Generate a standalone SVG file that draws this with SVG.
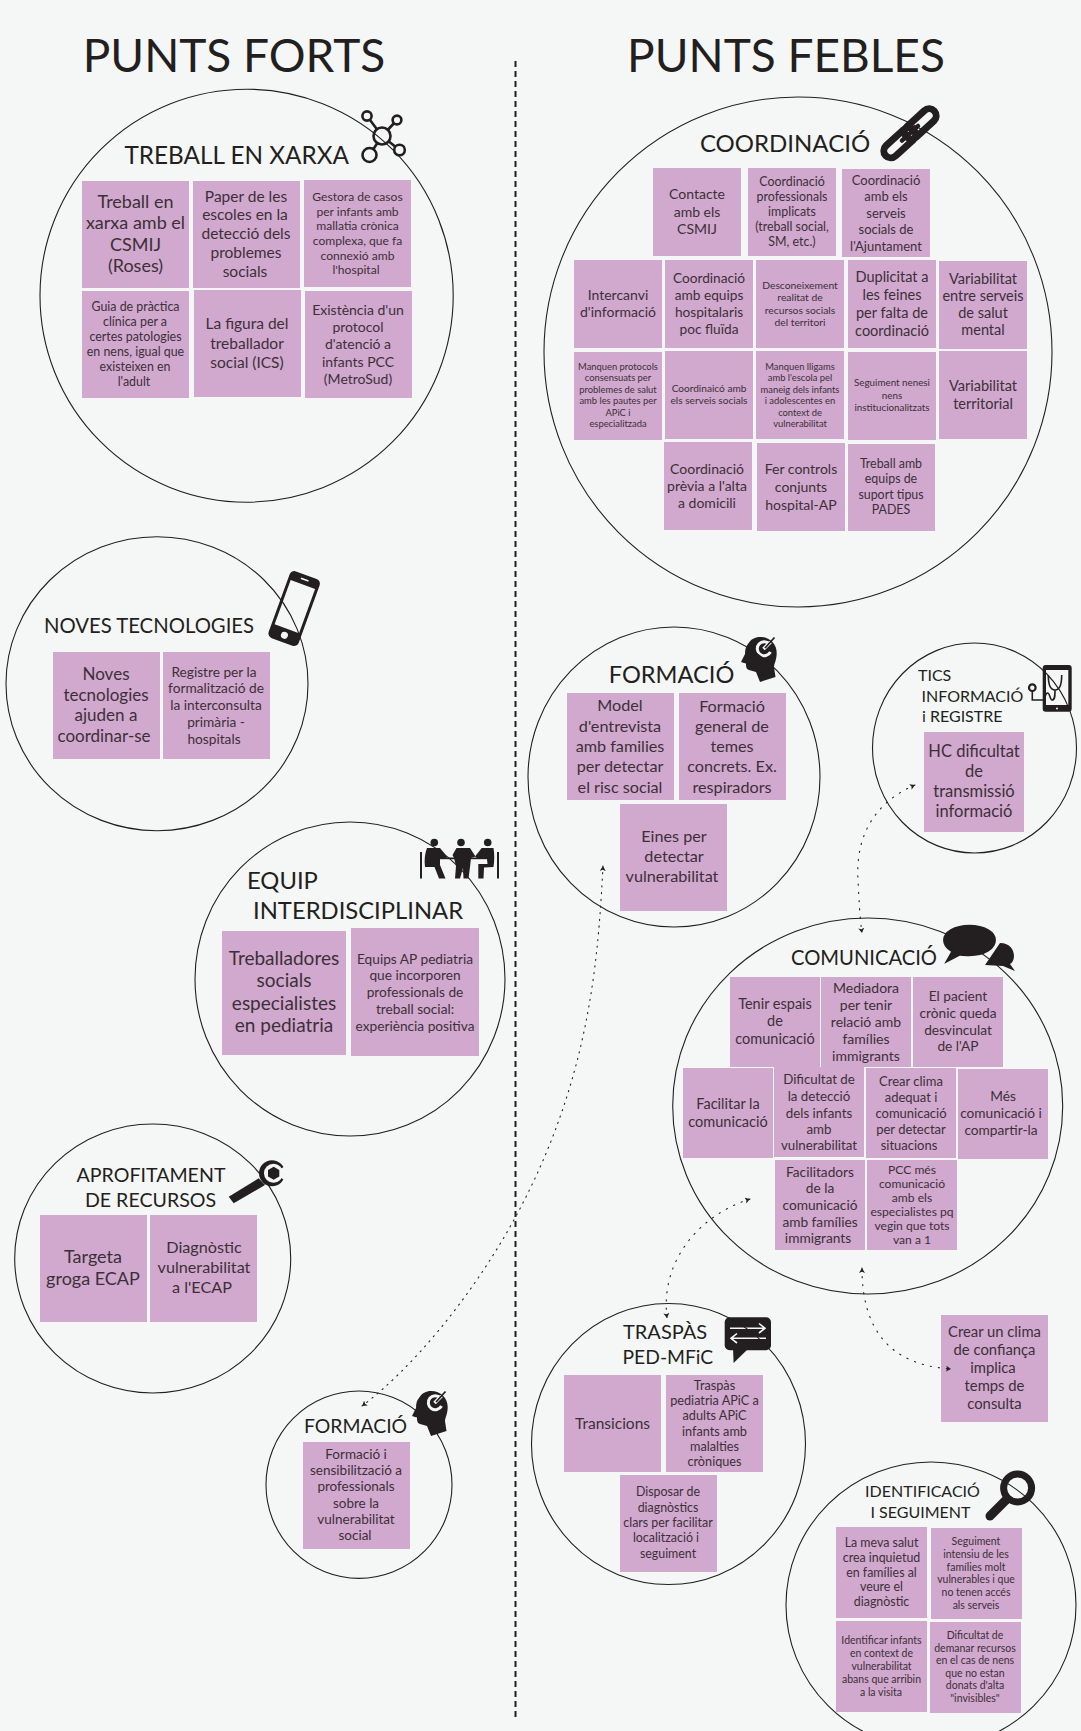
<svg xmlns="http://www.w3.org/2000/svg" width="1081" height="1731" viewBox="0 0 1081 1731">
<style>
text{font-family:"Lato","Noto Sans",sans-serif;text-anchor:middle;fill:#3c3038}
.h,.l{fill:#231f20}
.l{text-anchor:start}
.big{font-size:46px}
.h243{font-size:24.3px}.h240{font-size:24px}.h238{font-size:23.8px}.h236{font-size:23.6px}.h203{font-size:20.3px}.h202{font-size:20.2px}.h196{font-size:19.6px}.h194{font-size:19.4px}.h200{font-size:20px}.h193{font-size:19.3px}.h160{font-size:16px}
.c{fill:none;stroke:#231f20;stroke-width:1.1}
.s{fill:#d1a8ce}
.i{fill:#231f20}
.bg{fill:#f5f7f6}
.f94{font-size:9.4px}.f98{font-size:9.8px}.f101{font-size:10.1px}.f103{font-size:10.3px}.f105{font-size:10.5px}.f121{font-size:12.1px}.f124{font-size:12.4px}.f127{font-size:12.7px}.f130{font-size:13px}.f133{font-size:13.3px}.f135{font-size:13.5px}.f137{font-size:13.7px}.f140{font-size:14px}.f145{font-size:14.5px}.f148{font-size:14.8px}.f155{font-size:15.5px}.f162{font-size:16.2px}.f165{font-size:16.5px}.f170{font-size:17px}.f180{font-size:18px}.f190{font-size:19px}
.dot{fill:none;stroke:#231f20;stroke-width:1.1;stroke-dasharray:1.2 7;stroke-linecap:round}
.dot2{stroke-dasharray:1.2 5.5}
.net{fill:none;stroke:#231f20;stroke-width:2.6}
.ln{fill:none;stroke:#231f20}
</style>
<defs>
<marker id="arr" markerUnits="userSpaceOnUse" markerWidth="7" markerHeight="7" refX="5" refY="3" orient="auto-start-reverse"><path d="M0,0 L5,3 L0,6 L1.2,3 Z" fill="#231f20"/></marker>
<g id="head"><path class="i" d="M19,0 C29,0 35.7,7 35.7,16 C35.7,23 33,27 33,30 L34.5,40 L19,45 L15,35 L8,33 C5,32 5,29 5,26.5 L3,26 L0,25 L4,17 C4,12 5,9 7,7 C10,2 14,0 19,0 Z"/><path d="M28.5,7 A7,7 0 1 0 29.5,15" fill="none" stroke="#f5f7f6" stroke-width="3"/><path d="M22.5,12 L29.5,5" fill="none" stroke="#f5f7f6" stroke-width="3.5"/><path d="M24,11 L33.5,0.5" fill="none" stroke="#231f20" stroke-width="1.8"/></g>
</defs>
<rect width="1081" height="1731" class="bg"/>
<path d="M515.5,61 V1718" fill="none" stroke="#231f20" stroke-width="2" stroke-dasharray="6 4"/>
<text class="h big" x="234" y="72">PUNTS FORTS</text>
<text class="h big" x="786" y="72">PUNTS FEBLES</text>

<g id="treball-xarxa">
<g class="net"><path d="M382,136 L367,116 M382,136 L397,120 M382,136 L399.5,150 M382,136 L369.5,155"/><circle cx="382" cy="136" r="8.5" class="bg"/><circle cx="367" cy="116" r="4.6" class="bg"/><circle cx="397" cy="120" r="4.4" class="bg"/><circle cx="399.5" cy="150" r="5.3" class="bg"/><circle cx="369.5" cy="155" r="7" class="bg"/></g>
<ellipse class="c" cx="246.6" cy="295.7" rx="206.6" ry="206.5"/>
<text class="h h243" x="236.7" y="163.5">TREBALL EN XARXA</text>
<rect class="s" x="82" y="181" width="107" height="107"/><text class="f180"><tspan x="135.5" y="208">Treball en</tspan><tspan x="135.5" y="229">xarxa amb el</tspan><tspan x="135.5" y="251">CSMIJ</tspan><tspan x="135.5" y="272">(Roses)</tspan></text>
<rect class="s" x="193" y="181" width="107" height="107"/><text class="f155"><tspan x="246" y="202">Paper de les</tspan><tspan x="245" y="220">escoles en la</tspan><tspan x="246" y="239">detecció dels</tspan><tspan x="246" y="258">problemes</tspan><tspan x="245" y="277">socials</tspan></text>
<rect class="s" x="304" y="180" width="107" height="107"/><text class="f121"><tspan x="357.5" y="201">Gestora de casos</tspan><tspan x="357.5" y="216">per infants amb</tspan><tspan x="357.5" y="230">mallatia crònica</tspan><tspan x="357.5" y="245">complexa, que fa</tspan><tspan x="357.5" y="260">connexió amb</tspan><tspan x="356" y="274">l'hospital</tspan></text>
<rect class="s" x="82" y="291" width="107" height="107"/><text class="f124"><tspan x="135.5" y="311">Guia de pràctica</tspan><tspan x="135" y="326">clínica per a</tspan><tspan x="135.5" y="341">certes patologies</tspan><tspan x="135.5" y="356">en nens, igual que</tspan><tspan x="135" y="371">existeixen en</tspan><tspan x="134" y="386">l'adult</tspan></text>
<rect class="s" x="194" y="290" width="107" height="107"/><text class="f155"><tspan x="247" y="329">La figura del</tspan><tspan x="247" y="349">treballador</tspan><tspan x="247" y="368">social (ICS)</tspan></text>
<rect class="s" x="305" y="291" width="107" height="107"/><text class="f140"><tspan x="358" y="315">Existència d'un</tspan><tspan x="358" y="332">protocol</tspan><tspan x="358" y="349">d'atenció a</tspan><tspan x="358" y="367">infants PCC</tspan><tspan x="358" y="384">(MetroSud)</tspan></text>
</g>

<g id="coordinacio">
<g transform="translate(910 133.3) rotate(-42.5)"><rect x="-33" y="-7" width="38" height="14" rx="7" fill="none" stroke="#231f20" stroke-width="7"/><rect x="-5" y="-7" width="38" height="14" rx="7" fill="none" stroke="#231f20" stroke-width="7"/><rect x="-13" y="-2.2" width="26" height="4.4" rx="2" class="i"/></g>
<ellipse class="c" cx="798" cy="352" rx="254" ry="255"/>
<text class="h h240" x="785" y="151.5">COORDINACIÓ</text>
<rect class="s" x="653" y="168" width="88" height="88"/><text class="f140"><tspan x="697" y="199">Contacte</tspan><tspan x="697" y="217">amb els</tspan><tspan x="697" y="234">CSMIJ</tspan></text>
<rect class="s" x="748" y="168" width="88" height="88"/><text class="f124"><tspan x="792" y="186">Coordinació</tspan><tspan x="792" y="201">professionals</tspan><tspan x="792" y="216">implicats</tspan><tspan x="792" y="231">(treball social,</tspan><tspan x="792" y="246">SM, etc.)</tspan></text>
<rect class="s" x="842" y="169" width="88" height="88"/><text class="f130"><tspan x="886" y="185">Coordinació</tspan><tspan x="886" y="201">amb els</tspan><tspan x="886" y="218">serveis</tspan><tspan x="886" y="234">socials de</tspan><tspan x="886" y="251">l'Ajuntament</tspan></text>
<rect class="s" x="574" y="260" width="88" height="88"/><text class="f140"><tspan x="618" y="300">Intercanvi</tspan><tspan x="618" y="317">d'informació</tspan></text>
<rect class="s" x="665" y="260" width="88" height="88"/><text class="f137"><tspan x="709" y="283">Coordinació</tspan><tspan x="709" y="300">amb equips</tspan><tspan x="709" y="317">hospitalaris</tspan><tspan x="709" y="334">poc fluïda</tspan></text>
<rect class="s" x="756" y="260" width="88" height="88"/><text class="f103"><tspan x="800" y="289">Desconeixement</tspan><tspan x="800" y="301">realitat de</tspan><tspan x="800" y="314">recursos socials</tspan><tspan x="800" y="326">del territori</tspan></text>
<rect class="s" x="848" y="260" width="88" height="88"/><text class="f145"><tspan x="892" y="282">Duplicitat a</tspan><tspan x="892" y="300">les feines</tspan><tspan x="892" y="318">per falta de</tspan><tspan x="892" y="336">coordinació</tspan></text>
<rect class="s" x="939" y="261" width="88" height="88"/><text class="f145"><tspan x="983" y="284">Variabilitat</tspan><tspan x="983" y="301">entre serveis</tspan><tspan x="983" y="318">de salut</tspan><tspan x="983" y="335">mental</tspan></text>
<rect class="s" x="574" y="352" width="88" height="88"/><text class="f94"><tspan x="618" y="370">Manquen protocols</tspan><tspan x="618" y="381">consensuats per</tspan><tspan x="618" y="393">problemes de salut</tspan><tspan x="618" y="404">amb les pautes per</tspan><tspan x="618" y="416">APiC i</tspan><tspan x="618" y="427">especialitzada</tspan></text>
<rect class="s" x="665" y="351" width="88" height="88"/><text class="f101"><tspan x="709" y="392">Coordinaicó amb</tspan><tspan x="709" y="404">els serveis socials</tspan></text>
<rect class="s" x="756" y="351" width="88" height="88"/><text class="f94"><tspan x="800" y="370">Manquen lligams</tspan><tspan x="800" y="381">amb l'escola pel</tspan><tspan x="800" y="393">maneig dels infants</tspan><tspan x="800" y="404">i adolescentes en</tspan><tspan x="800" y="416">context de</tspan><tspan x="800" y="427">vulnerabilitat</tspan></text>
<rect class="s" x="848" y="352" width="88" height="88"/><text class="f98"><tspan x="892" y="386">Seguiment nenesi</tspan><tspan x="892" y="399">nens</tspan><tspan x="892" y="411">institucionalitzats</tspan></text>
<rect class="s" x="939" y="351" width="88" height="88"/><text class="f145"><tspan x="983" y="391">Variabilitat</tspan><tspan x="983" y="409">territorial</tspan></text>
<rect class="s" x="664" y="442" width="88" height="88"/><text class="f140"><tspan x="707" y="474">Coordinació</tspan><tspan x="707" y="491">prèvia a l'alta</tspan><tspan x="707" y="508">a domicili</tspan></text>
<rect class="s" x="757" y="443" width="88" height="88"/><text class="f140"><tspan x="801" y="474">Fer controls</tspan><tspan x="801" y="492">conjunts</tspan><tspan x="801" y="510">hospital-AP</tspan></text>
<rect class="s" x="848" y="444" width="87" height="87"/><text class="f124"><tspan x="891" y="468">Treball amb</tspan><tspan x="891" y="483">equips de</tspan><tspan x="891" y="499">suport tipus</tspan><tspan x="891" y="514">PADES</tspan></text>
</g>

<g id="noves-tecnologies">
<g transform="translate(294 609) rotate(20)"><rect x="-16" y="-36" width="32" height="71" rx="5" class="i"/><rect x="-13" y="-26" width="26" height="47" class="bg"/><circle cx="0" cy="28" r="3.5" class="bg"/><rect x="-4" y="-32" width="8" height="1.6" class="bg"/></g>
<ellipse class="c" cx="157" cy="683.7" rx="151" ry="147"/>
<text class="h h203" x="149" y="632.5">NOVES TECNOLOGIES</text>
<rect class="s" x="53" y="652" width="107" height="107"/><text class="f170"><tspan x="106" y="680">Noves</tspan><tspan x="106" y="701">tecnologies</tspan><tspan x="106" y="721">ajuden a</tspan><tspan x="104" y="742">coordinar-se</tspan></text>
<rect class="s" x="163" y="652" width="107" height="107"/><text class="f137"><tspan x="214" y="677">Registre per la</tspan><tspan x="216" y="693">formalització de</tspan><tspan x="216" y="710">la interconsulta</tspan><tspan x="216" y="727">primària -</tspan><tspan x="214" y="744">hospitals</tspan></text>
</g>

<g id="equip-interdisciplinar">
<g class="i">
<circle cx="434.3" cy="842.5" r="3.8"/><circle cx="461" cy="842.5" r="3.8"/><circle cx="487.7" cy="842.5" r="3.8"/>
<path d="M427,848 L440,848 L447,856.5 L446,859 L440,859 L440,865 L445.5,878.5 L439,878.5 L434.5,867 L425,867 C424,860 425,853 427,848 Z"/>
<path d="M456.5,848 L470,848 L475.5,856.5 L471,858 L470,867 L468.5,878.5 L463.5,878.5 L463,868 L460,878.5 L455,878.5 L456,866 L454,858 L452.5,855 Z"/>
<path d="M481.7,848 L493.5,848 C494.5,854 494.5,860 493.5,867 L484,867.5 L483.5,878.5 L478.3,878.5 L478.3,864 L487.5,864 L487,859 L477,858 L475,856.5 Z"/>
<rect x="434" y="857.5" width="57" height="1.7"/><rect x="420" y="852" width="2" height="26.5"/><rect x="497" y="852" width="2" height="26.5"/>
</g>
<ellipse class="c" cx="350" cy="979" rx="155" ry="157"/>
<text class="l h238" x="247" y="888.5">EQUIP</text>
<text class="l h238" x="253" y="919">INTERDISCIPLINAR</text>
<rect class="s" x="222" y="931" width="124" height="124"/><text class="f190"><tspan x="284" y="965">Treballadores</tspan><tspan x="284" y="987">socials</tspan><tspan x="284" y="1010">especialistes</tspan><tspan x="284" y="1032">en pediatria</tspan></text>
<rect class="s" x="351" y="928" width="128" height="128"/><text class="f137"><tspan x="415" y="964">Equips AP pediatria</tspan><tspan x="415" y="980">que incorporen</tspan><tspan x="415" y="997">professionals de</tspan><tspan x="415" y="1014">treball social:</tspan><tspan x="415" y="1031">experiència positiva</tspan></text>
</g>

<g id="aprofitament-recursos">
<path class="i" d="M228.7,1196.7 L258.7,1178.3 L265,1185 L233.7,1203.3 Z"/><circle class="i" cx="272" cy="1173.3" r="13"/><circle class="bg" cx="273.5" cy="1173.3" r="9.5"/><path class="bg" d="M274,1173 L290,1163 L290,1184 Z"/><polygon class="i" points="273.7,1166.8 279.3,1170 279.3,1176.6 273.7,1179.8 268,1176.6 268,1170"/>
<ellipse class="c" cx="152.7" cy="1258.5" rx="138" ry="134.5"/>
<text class="h h196" x="151" y="1182">APROFITAMENT</text>
<text class="h h196" x="150.5" y="1207">DE RECURSOS</text>
<rect class="s" x="40" y="1215" width="107" height="107"/><text class="f180"><tspan x="93" y="1263">Targeta</tspan><tspan x="93" y="1285">groga ECAP</tspan></text>
<rect class="s" x="150" y="1215" width="107" height="107"/><text class="f162"><tspan x="204" y="1253">Diagnòstic</tspan><tspan x="204" y="1273">vulnerabilitat</tspan><tspan x="202" y="1293">a l'ECAP</tspan></text>
</g>

<g id="formacio-forts">
<use href="#head" x="412" y="1391"/>
<ellipse class="c" cx="359" cy="1484.7" rx="93" ry="93.7"/>
<text class="h h194" x="355.5" y="1433">FORMACIÓ</text>
<rect class="s" x="303" y="1442" width="107" height="107"/><text class="f135"><tspan x="356" y="1459">Formació i</tspan><tspan x="356" y="1475">sensibilització a</tspan><tspan x="356" y="1491">professionals</tspan><tspan x="356" y="1508">sobre la</tspan><tspan x="356" y="1524">vulnerabilitat</tspan><tspan x="355" y="1540">social</tspan></text>
</g>

<g id="formacio-febles">
<use href="#head" x="741" y="637"/>
<ellipse class="c" cx="674" cy="777" rx="146" ry="150"/>
<text class="h h236" x="671.5" y="683">FORMACIÓ</text>
<rect class="s" x="567" y="693" width="107" height="107"/><text class="f162"><tspan x="620" y="711">Model</tspan><tspan x="620" y="732">d'entrevista</tspan><tspan x="620" y="752">amb families</tspan><tspan x="620" y="772">per detectar</tspan><tspan x="620" y="793">el risc social</tspan></text>
<rect class="s" x="679" y="693" width="107" height="107"/><text class="f162"><tspan x="732" y="712">Formació</tspan><tspan x="732" y="732">general de</tspan><tspan x="732" y="752">temes</tspan><tspan x="732" y="772">concrets. Ex.</tspan><tspan x="732" y="793">respiradors</tspan></text>
<rect class="s" x="620" y="804" width="107" height="107"/><text class="f162"><tspan x="674" y="842">Eines per</tspan><tspan x="674" y="862">detectar</tspan><tspan x="672" y="882">vulnerabilitat</tspan></text>
</g>

<g id="tics">
<rect x="1042.7" y="665" width="29" height="46.7" rx="3" class="i"/><rect x="1046" y="670" width="22.3" height="35" class="bg"/><circle cx="1057" cy="708.5" r="1" class="bg"/>
<path class="ln" stroke-width="1.6" d="M1032.3,691 V700 H1043.3 C1045,700 1045,693 1047.5,693 C1050,693 1050,700 1052,700 C1055,700 1055,696 1055,690 M1048.3,675 C1048.3,688 1052,690 1055,690 C1058,690 1061.7,688 1061.7,675"/><circle class="ln" cx="1032.3" cy="687.7" r="3.3" stroke-width="2.2"/>
<ellipse class="c" cx="974.5" cy="748" rx="102" ry="105"/>
<text class="l h160" x="918" y="681">TICS</text>
<text class="l h160" x="921.5" y="701.7">INFORMACIÓ</text>
<text class="l h160" x="922" y="722">i REGISTRE</text>
<rect class="s" x="924" y="732" width="100" height="100"/><text class="f165"><tspan x="974" y="757">HC dificultat</tspan><tspan x="974" y="777">de</tspan><tspan x="974" y="797">transmissió</tspan><tspan x="974" y="817">informació</tspan></text>
</g>

<g id="comunicacio">
<path class="i" d="M1000,943 C1010,943 1014,950 1014,956 C1014,960 1012,963 1010,964 L1015,971 L1003,966 L985,965 Z"/>
<path class="i" d="M969.5,924 C985,924 996.7,931 996.7,940 C996.7,950 985,957 969.5,957 C965,957 962,956.5 960,956.5 L942.3,965.7 L950,952 C945,949 942.3,945 942.3,940 C942.3,931 954,924 969.5,924 Z" stroke="#f5f7f6" stroke-width="1.5"/>
<ellipse class="c" cx="867.7" cy="1106" rx="195" ry="188"/>
<text class="h h202" x="864" y="964.5">COMUNICACIÓ</text>
<rect class="s" x="730" y="977" width="90" height="90"/><text class="f145"><tspan x="775" y="1009">Tenir espais</tspan><tspan x="775" y="1026">de</tspan><tspan x="775" y="1044">comunicació</tspan></text>
<rect class="s" x="821" y="977" width="90" height="90"/><text class="f140"><tspan x="866" y="993">Mediadora</tspan><tspan x="866" y="1010">per tenir</tspan><tspan x="866" y="1027">relació amb</tspan><tspan x="866" y="1044">famílies</tspan><tspan x="866" y="1061">immigrants</tspan></text>
<rect class="s" x="913" y="977" width="90" height="90"/><text class="f137"><tspan x="958" y="1001">El pacient</tspan><tspan x="958" y="1018">crònic queda</tspan><tspan x="958" y="1035">desvinculat</tspan><tspan x="958" y="1051">de l'AP</tspan></text>
<rect class="s" x="683" y="1068" width="90" height="90"/><text class="f145"><tspan x="728" y="1109">Facilitar la</tspan><tspan x="728" y="1127">comunicació</tspan></text>
<rect class="s" x="774" y="1067" width="90" height="90"/><text class="f133"><tspan x="819" y="1084">Dificultat de</tspan><tspan x="819" y="1101">la detecció</tspan><tspan x="819" y="1118">dels infants</tspan><tspan x="819" y="1134">amb</tspan><tspan x="819" y="1150">vulnerabilitat</tspan></text>
<rect class="s" x="866" y="1068" width="90" height="90"/><text class="f130"><tspan x="911" y="1086">Crear clima</tspan><tspan x="911" y="1102">adequat i</tspan><tspan x="911" y="1118">comunicació</tspan><tspan x="911" y="1134">per detectar</tspan><tspan x="909" y="1150">situacions</tspan></text>
<rect class="s" x="958" y="1069" width="90" height="90"/><text class="f137"><tspan x="1003" y="1101">Més</tspan><tspan x="1001" y="1118">comunicació i</tspan><tspan x="1001" y="1135">compartir-la</tspan></text>
<rect class="s" x="775" y="1160" width="90" height="90"/><text class="f137"><tspan x="820" y="1177">Facilitadors</tspan><tspan x="820" y="1193">de la</tspan><tspan x="820" y="1210">comunicació</tspan><tspan x="820" y="1227">amb famílies</tspan><tspan x="818" y="1243">immigrants</tspan></text>
<rect class="s" x="867" y="1160" width="90" height="90"/><text class="f121"><tspan x="912" y="1174">PCC més</tspan><tspan x="912" y="1188">comunicació</tspan><tspan x="912" y="1202">amb els</tspan><tspan x="912" y="1216">especialistes pq</tspan><tspan x="912" y="1230">vegin que tots</tspan><tspan x="912" y="1244">van a 1</tspan></text>
</g>

<g id="crear-clima">
<rect class="s" x="941" y="1315" width="107" height="107"/><text class="f148"><tspan x="994.5" y="1337">Crear un clima</tspan><tspan x="994.5" y="1355">de confiança</tspan><tspan x="993" y="1373">implica</tspan><tspan x="994.5" y="1391">temps de</tspan><tspan x="994.5" y="1409">consulta</tspan></text>
</g>

<g id="traspas">
<rect x="724.7" y="1317.3" width="46.3" height="33" rx="5" class="i"/><path class="i" d="M733,1348 L733.6,1363 L749,1348 Z"/>
<path d="M730,1328.3 H764 M759,1323.5 L765,1328.3 L759,1333 M766,1338.3 H732 M737,1333.5 L731,1338.3 L737,1343" fill="none" stroke="#f5f7f6" stroke-width="1.6"/>
<ellipse class="c" cx="668.5" cy="1444" rx="137" ry="140.5"/>
<text class="l h200" x="623" y="1339">TRASPÀS</text>
<text class="l h193" x="622.5" y="1364">PED-MFiC</text>
<rect class="s" x="564" y="1375" width="97" height="97"/><text class="f155"><tspan x="612.5" y="1429">Transicions</tspan></text>
<rect class="s" x="666" y="1375" width="97" height="97"/><text class="f127"><tspan x="714.5" y="1390">Traspàs</tspan><tspan x="714.5" y="1405">pediatria APiC a</tspan><tspan x="714.5" y="1420">adults APiC</tspan><tspan x="714.5" y="1436">infants amb</tspan><tspan x="714.5" y="1451">malalties</tspan><tspan x="714.5" y="1466">cròniques</tspan></text>
<rect class="s" x="620" y="1475" width="97" height="97"/><text class="f124"><tspan x="668" y="1496">Disposar de</tspan><tspan x="668" y="1512">diagnòstics</tspan><tspan x="668" y="1527">clars per facilitar</tspan><tspan x="666" y="1542">localització i</tspan><tspan x="668" y="1558">seguiment</tspan></text>
</g>

<g id="identificacio">
<circle cx="1017.6" cy="1488" r="14" fill="none" stroke="#231f20" stroke-width="7"/><path d="M1006,1500 L990,1516" stroke="#231f20" stroke-width="9" stroke-linecap="round"/>
<ellipse class="c" cx="931" cy="1605" rx="145" ry="143"/>
<text class="h h160" x="922.5" y="1497">IDENTIFICACIÓ</text>
<text class="h h160" x="920.5" y="1518">I SEGUIMENT</text>
<rect class="s" x="836" y="1527" width="91" height="91"/><text class="f124"><tspan x="881.5" y="1547">La meva salut</tspan><tspan x="881.5" y="1562">crea inquietud</tspan><tspan x="881.5" y="1577">en famílies al</tspan><tspan x="881.5" y="1591">veure el</tspan><tspan x="881.5" y="1606">diagnòstic</tspan></text>
<rect class="s" x="931" y="1528" width="91" height="91"/><text class="f105"><tspan x="976" y="1545">Seguiment</tspan><tspan x="976" y="1558">intensiu de les</tspan><tspan x="976" y="1571">famílies molt</tspan><tspan x="976" y="1583">vulnerables i que</tspan><tspan x="976" y="1596">no tenen accés</tspan><tspan x="976" y="1609">als serveis</tspan></text>
<rect class="s" x="836" y="1621" width="91" height="91"/><text class="f105"><tspan x="881.5" y="1644">Identificar infants</tspan><tspan x="881.5" y="1657">en context de</tspan><tspan x="881.5" y="1670">vulnerabilitat</tspan><tspan x="881.5" y="1683">abans que arribin</tspan><tspan x="881" y="1696">a la visita</tspan></text>
<rect class="s" x="930" y="1622" width="91" height="91"/><text class="f105"><tspan x="975" y="1639">Dificultat de</tspan><tspan x="975" y="1652">demanar recursos</tspan><tspan x="975" y="1664">en el cas de nens</tspan><tspan x="975" y="1677">que no estan</tspan><tspan x="975" y="1689">donats d'alta</tspan><tspan x="975" y="1702">"invisibles"</tspan></text>
</g>

<g id="connectors">
<path class="dot" marker-start="url(#arr)" marker-end="url(#arr)" d="M915,785 C880,800 855,830 858,880 C859,900 860,920 862,933"/>
<path class="dot dot2" marker-start="url(#arr)" marker-end="url(#arr)" d="M603,866 C598,960 590,1080 515,1218 C470,1300 410,1370 362,1406"/>
<path class="dot" marker-start="url(#arr)" marker-end="url(#arr)" d="M750,1199 C700,1215 660,1260 667,1318"/>
<path class="dot" marker-start="url(#arr)" marker-end="url(#arr)" d="M862,1268 C862,1330 890,1365 951,1369"/>
</g>
</svg>
